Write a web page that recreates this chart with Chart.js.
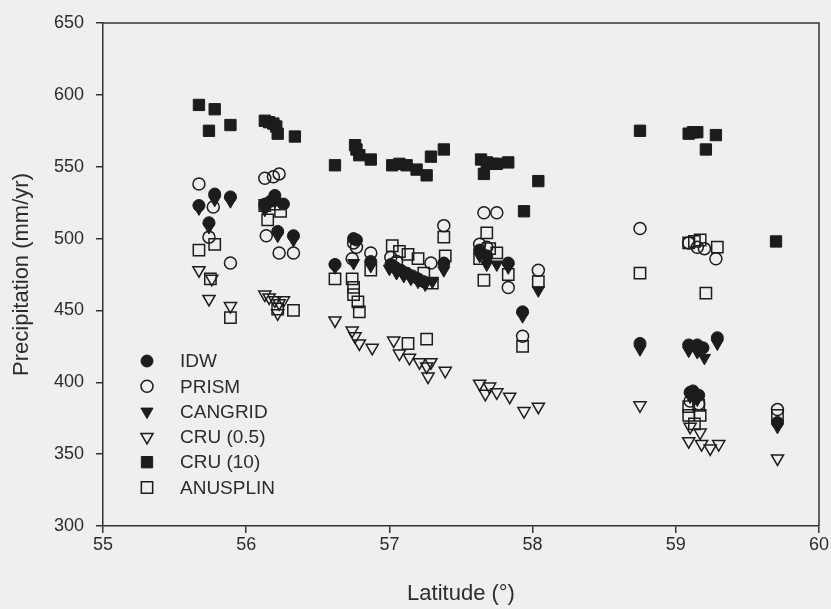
<!DOCTYPE html>
<html>
<head>
<meta charset="utf-8">
<title>Precipitation by latitude</title>
<script src="https://cdn.jsdelivr.net/npm/chart.js@4.4.1/dist/chart.umd.min.js"></script>
<style>
  html, body { margin: 0; padding: 0; background: #efefef; }
  #wrap { width: 831px; height: 609px; }
</style>
</head>
<body>
<div id="wrap"><canvas id="canvasNiederschlag" width="831" height="609"></canvas></div>
<script>
// Achsen
var xTicks = [55, 56, 57, 58, 59, 60];
var yTicks = [300, 350, 400, 450, 500, 550, 600, 650];

// Reihenfolge wie in der Legende
var seriesNames = ["IDW", "PRISM", "CANGRID", "CRU (0.5)", "CRU (10)", "ANUSPLIN"];

// IDW
var idwLat = [55.67, 55.74, 55.78, 55.89, 56.13, 56.17, 56.20, 56.22, 56.26, 56.33,
  56.62, 56.75, 56.77, 56.87, 57.01, 57.04, 57.08, 57.12, 57.16, 57.20, 57.24, 57.38,
  57.63, 57.68, 57.83, 57.93, 58.75, 59.09, 59.15, 59.19, 59.29, 59.10, 59.12, 59.16, 59.71];
var idwVal = [523, 511, 531, 529, 524, 526, 530, 505, 524, 502,
  482, 500, 499, 484, 482, 480, 478, 476, 474, 472, 470, 483,
  492, 488, 483, 449, 427, 426, 426, 424, 431, 393, 394, 391, 372];

// PRISM
var prismLat = [55.67, 55.77, 55.74, 55.89, 56.13, 56.19, 56.23, 56.14, 56.23, 56.33,
  56.75, 56.77, 56.74, 56.87, 57.01, 57.05, 57.29, 57.38,
  57.66, 57.75, 57.63, 57.68, 57.83, 58.04, 57.93,
  58.75, 59.09, 59.15, 59.20, 59.28, 59.10, 59.16, 59.71];
var prismVal = [538, 522, 501, 483, 542, 543, 545, 502, 490, 490,
  497, 494, 486, 490, 487, 484, 483, 509,
  518, 518, 496, 494, 466, 478, 432,
  507, 497, 494, 493, 486, 387, 385, 381];

// CANGRID
var cangridLat = [55.67, 55.74, 55.78, 55.89, 56.13, 56.20, 56.22, 56.33,
  56.62, 56.75, 56.87, 57.00, 57.05, 57.10, 57.15, 57.20, 57.25, 57.30, 57.38,
  57.63, 57.68, 57.75, 57.83, 57.93, 58.04,
  58.75, 59.09, 59.15, 59.20, 59.29, 59.10, 59.15, 59.71];
var cangridVal = [521, 508, 527, 526, 520, 526, 502, 499,
  480, 483, 481, 479, 476, 474, 472, 470, 468, 470, 478,
  488, 482, 482, 480, 446, 464,
  423, 422, 421, 417, 427, 390, 388, 369];

// CRU (0.5)
var cru05Lat = [55.67, 55.76, 55.74, 55.89, 56.13, 56.16, 56.20, 56.23, 56.22, 56.26,
  56.62, 56.74, 56.76, 56.79, 56.88, 57.03, 57.07, 57.14, 57.21, 57.26, 57.27, 57.29, 57.39,
  57.63, 57.67, 57.70, 57.75, 57.84, 57.94, 58.04,
  58.75, 59.10, 59.17, 59.09, 59.18, 59.24, 59.30, 59.71];
var cru05Val = [478, 472, 458, 453, 461, 459, 457, 455, 448, 457,
  443, 436, 432, 427, 424, 429, 420, 417, 414, 411, 404, 414, 408,
  399, 392, 397, 393, 390, 380, 383,
  384, 369, 365, 359, 357, 354, 357, 347];

// CRU (10)
var cru10Lat = [55.67, 55.74, 55.78, 55.89, 56.13, 56.16, 56.19, 56.21, 56.22, 56.34,
  56.62, 56.76, 56.77, 56.79, 56.87, 57.02, 57.07, 57.12, 57.19, 57.26, 57.29, 57.38,
  57.64, 57.66, 57.68, 57.72, 57.75, 57.83, 57.94, 58.04,
  58.75, 59.09, 59.12, 59.15, 59.21, 59.28, 59.70];
var cru10Val = [593, 575, 590, 579, 582, 581, 580, 578, 573, 571,
  551, 565, 562, 558, 555, 551, 552, 551, 548, 544, 557, 562,
  555, 545, 553, 552, 552, 553, 519, 540,
  575, 573, 574, 574, 562, 572, 498];

// ANUSPLIN
var anusplinLat = [55.67, 55.78, 55.75, 55.89, 56.13, 56.20, 56.24, 56.15, 56.22, 56.33,
  56.62, 56.74, 56.75, 56.75, 56.78, 56.79, 56.87, 57.02, 57.07, 57.13, 57.20, 57.24, 57.30,
  57.38, 57.39, 57.13, 57.26,
  57.68, 57.63, 57.70, 57.75, 57.83, 57.66, 58.04, 57.93,
  58.75, 59.09, 59.13, 59.17, 59.29, 59.21, 59.09, 59.16, 59.09, 59.17, 59.13, 59.71];
var anusplinVal = [492, 496, 472, 445, 523, 524, 519, 513, 451, 450,
  472, 472, 466, 461, 456, 449, 478, 495, 491, 489, 486, 476, 469,
  501, 488, 427, 430,
  504, 486, 493, 490, 475, 471, 470, 425,
  476, 497, 498, 499, 494, 462, 383, 384, 377, 377, 371, 377];

var tintenFarbe = "#1c1c1c";
var textFarbe = "#2c2c2c";

function punkte(latArray, valArray) {
  return latArray.map(function (lat, i) {
    return { x: lat, y: valArray[i] };
  });
}

function erstelleDataset(name, latArray, valArray, stil, gefuellt, radius, drehung) {
  return {
    label: name,
    data: punkte(latArray, valArray),
    pointStyle: stil,
    pointRadius: radius,
    pointRotation: drehung,
    pointBorderWidth: gefuellt ? 1 : 1.5,
    pointBorderColor: tintenFarbe,
    pointBackgroundColor: gefuellt ? tintenFarbe : "rgba(0,0,0,0)",
    showLine: false,
  };
}

// Hintergrund, Rahmen oben/rechts und Legende im Diagramm
var rahmenPlugin = {
  id: "rahmen",
  beforeDraw: function (chart) {
    var ctx = chart.ctx;
    ctx.save();
    ctx.fillStyle = "#efefef";
    ctx.fillRect(0, 0, chart.width, chart.height);
    ctx.restore();
  },
  afterDraw: function (chart) {
    var ctx = chart.ctx;
    var a = chart.chartArea;
    ctx.save();
    ctx.strokeStyle = "#333333";
    ctx.lineWidth = 1.5;
    ctx.beginPath();
    ctx.moveTo(a.left, a.top);
    ctx.lineTo(a.right, a.top);
    ctx.lineTo(a.right, a.bottom);
    ctx.stroke();

    // Legende
    ctx.font = "19px 'Liberation Sans', Arial, sans-serif";
    ctx.textBaseline = "middle";
    ctx.textAlign = "left";
    chart.data.datasets.forEach(function (ds, i) {
      var y = 361 + i * 25.3;
      ctx.fillStyle = ds.pointBackgroundColor;
      ctx.strokeStyle = ds.pointBorderColor;
      ctx.lineWidth = ds.pointBorderWidth;
      Chart.helpers.drawPoint(ctx, {
        pointStyle: ds.pointStyle,
        radius: ds.pointRadius,
        rotation: ds.pointRotation,
        borderWidth: ds.pointBorderWidth,
      }, 147, y);
      ctx.fillStyle = textFarbe;
      ctx.fillText(ds.label, 180, y + 1);
    });
    ctx.restore();
  },
};

function erstelleDiagramm() {
  var schrift = { family: "'Liberation Sans', Arial, sans-serif", size: 18 };
  var titelSchrift = { family: "'Liberation Sans', Arial, sans-serif", size: 22 };

  var canvas = document.getElementById("canvasNiederschlag").getContext("2d");
  window.chartNiederschlag = new Chart(canvas, {
    type: "scatter",
    data: {
      datasets: [
        erstelleDataset(seriesNames[0], idwLat, idwVal, "circle", true, 6, 0),
        erstelleDataset(seriesNames[1], prismLat, prismVal, "circle", false, 6, 0),
        erstelleDataset(seriesNames[2], cangridLat, cangridVal, "triangle", true, 7, 180),
        erstelleDataset(seriesNames[3], cru05Lat, cru05Val, "triangle", false, 7, 180),
        erstelleDataset(seriesNames[4], cru10Lat, cru10Val, "rect", true, 8, 0),
        erstelleDataset(seriesNames[5], anusplinLat, anusplinVal, "rect", false, 8, 0),
      ],
    },
    options: {
      responsive: false,
      animation: false,
      events: [],
      layout: {
        padding: { left: 0, top: 23, right: 12, bottom: 0 },
      },
      plugins: {
        legend: { display: false },
        tooltip: { enabled: false },
      },
      scales: {
        x: {
          type: "linear",
          min: xTicks[0],
          max: xTicks[xTicks.length - 1],
          afterFit: function (scale) { scale.height = 83; },
          afterBuildTicks: function (scale) {
            scale.ticks = xTicks.map(function (v) { return { value: v }; });
          },
          ticks: { color: textFarbe, font: schrift, padding: 1 },
          grid: { drawOnChartArea: false, tickLength: 7, color: "#333333", lineWidth: 1.5 },
          border: { color: "#333333", width: 1.5 },
          title: {
            display: true,
            text: "Latitude (°)",
            color: textFarbe,
            font: titelSchrift,
            padding: { top: 0, bottom: 2 },
          },
        },
        y: {
          type: "linear",
          min: yTicks[0],
          max: yTicks[yTicks.length - 1],
          afterFit: function (scale) { scale.width = 103; },
          afterBuildTicks: function (scale) {
            scale.ticks = yTicks.map(function (v) { return { value: v }; });
          },
          ticks: { color: textFarbe, font: schrift, padding: 12 },
          grid: { drawOnChartArea: false, tickLength: 7, color: "#333333", lineWidth: 1.5 },
          border: { color: "#333333", width: 1.5 },
          title: {
            display: true,
            text: "Precipitation (mm/yr)",
            color: textFarbe,
            font: titelSchrift,
            padding: { top: 9, bottom: 0 },
          },
        },
      },
    },
    plugins: [rahmenPlugin],
  });
}

window.addEventListener("DOMContentLoaded", function () {
  erstelleDiagramm();
});
</script>
</body>
</html>
